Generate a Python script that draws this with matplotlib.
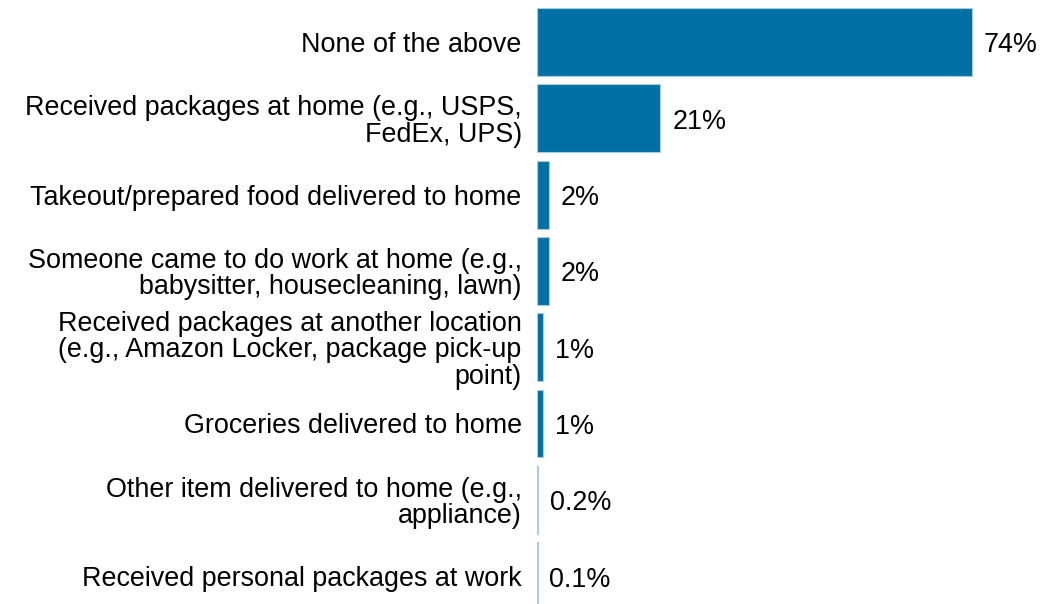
import matplotlib.pyplot as plt

plt.rcParams['font.family'] = ['Liberation Sans', 'DejaVu Sans']

labels = [
    "None of the above",
    "Received packages at home (e.g., USPS,\nFedEx, UPS)",
    "Takeout/prepared food delivered to home",
    "Someone came to do work at home (e.g.,\nbabysitter, housecleaning, lawn)",
    "Received packages at another location\n(e.g., Amazon Locker, package pick-up\npoint)",
    "Groceries delivered to home",
    "Other item delivered to home (e.g.,\nappliance)",
    "Received personal packages at work",
]
values = [74, 21, 2, 2, 1, 1, 0.2, 0.1]
value_labels = ["74%", "21%", "2%", "2%", "1%", "1%", "0.2%", "0.1%"]

FS = 19.4

fig = plt.figure(figsize=(10.59, 6.04), dpi=100)
ax = fig.add_axes([537 / 1059, 0, 1 - 537 / 1059, 1])

ypos = list(range(len(values)))
ax.barh(ypos, values, height=0.89, color='#0070a4', edgecolor='#a8cce0', linewidth=0.8)

# value labels next to bar ends
for y, v, t in zip(ypos, values, value_labels):
    ax.annotate(t, (v, y), xytext=(8.5, -2.5), textcoords='offset points',
                va='center', ha='left', fontsize=FS)

ax.set_xlim(0, 522 / 5.88)
ax.set_ylim(7.366, -0.55)
ax.set_yticks(ypos)
ax.set_yticklabels(labels, fontsize=FS, multialignment='right', linespacing=1.03)
ax.tick_params(axis='y', length=0, pad=11)
ax.set_xticks([])
for s in ax.spines.values():
    s.set_visible(False)

fig.savefig('out.png', dpi=100)
